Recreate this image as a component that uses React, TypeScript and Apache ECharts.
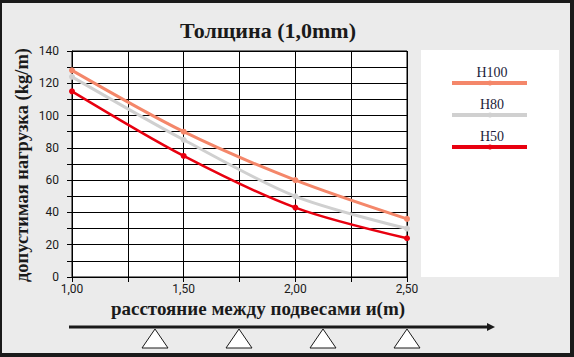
import React, { useEffect, useRef } from "react";
import * as echarts from "echarts";

const spans = [1.0, 1.5, 2.0, 2.5];
const seriesNames = ["H100", "H80", "H50"];
const h100 = [128, 90, 60, 36];
const h80 = [124, 85, 50, 30];
const h50 = [115, 75, 43, 24];
const colors = ["#f4876a", "#d0d0d0", "#e8000f"];
const supportXs = [155, 239, 323, 407];

export default function App() {
  const ref = useRef<HTMLDivElement>(null);
  useEffect(() => {
    if (!ref.current) return;
    const chart = echarts.init(ref.current, null, { renderer: "svg" });
    const values = [h100, h80, h50];
    const dark = "#1a1a1a";
    const legendGraphics: any[] = [];
    seriesNames.forEach((n, i) => {
      const y = 72 + i * 32;
      legendGraphics.push({
        type: "text",
        x: 492,
        y,
        style: { text: n, fill: "#1c1c3a", font: "14px 'Liberation Serif'", textAlign: "center", textVerticalAlign: "middle" },
        z: 10,
      });
      legendGraphics.push({
        type: "line",
        shape: { x1: 452, y1: y + 11, x2: 527, y2: y + 11 },
        style: { stroke: colors[i], lineWidth: 4 },
        z: 10,
      });
      legendGraphics.push({
        type: "circle",
        shape: { cx: 490, cy: y + 11, r: 2.5 },
        style: { fill: colors[i] },
        z: 11,
      });
    });
    const triangles = supportXs.map((cx) => ({
      type: "polygon",
      shape: { points: [[cx, 329], [cx - 13, 348], [cx + 13, 348]] },
      style: { fill: "#fff", stroke: dark, lineWidth: 1 },
      z: 10,
    }));
    chart.setOption({
      animation: false,
      backgroundColor: "#ebebeb",
      grid: {
        left: 72,
        right: 167,
        top: 51,
        bottom: 80,
        show: true,
        backgroundColor: "#ffffff",
        borderColor: "#000",
        borderWidth: 1,
      },
      xAxis: {
        type: "value",
        min: 1,
        max: 2.5,
        interval: 0.25,
        axisLine: { show: true, lineStyle: { color: "#000", width: 1 } },
        axisTick: { show: true, length: 5, lineStyle: { color: "#000" } },
        splitLine: { show: true, lineStyle: { color: "#000", width: 1 } },
        axisLabel: {
          margin: 6,
          color: dark,
          fontSize: 12,
          fontFamily: "Roboto",
          formatter: (v: number) =>
            Math.abs(v * 2 - Math.round(v * 2)) < 1e-6 ? v.toFixed(2).replace(".", ",") : "",
        },
      },
      yAxis: {
        type: "value",
        min: 0,
        max: 140,
        interval: 10,
        axisLine: { show: true, lineStyle: { color: "#000", width: 1 } },
        axisTick: { show: true, length: 5, lineStyle: { color: "#000" } },
        splitLine: { show: true, lineStyle: { color: "#000", width: 1 } },
        axisLabel: {
          margin: 13,
          color: dark,
          fontSize: 12,
          fontFamily: "Roboto",
          formatter: (v: number) => (v % 20 === 0 ? String(v) : ""),
        },
      },
      series: seriesNames.map((n, i) => ({
        name: n,
        type: "line",
        smooth: 0.3,
        data: spans.map((x, j) => [x, values[i][j]]),
        symbol: "circle",
        symbolSize: 6,
        lineStyle: { color: colors[i], width: i === 2 ? 2.5 : 3 },
        itemStyle: { color: colors[i] },
        z: 5 - i,
      })),
      graphic: [
        { type: "rect", shape: { x: 0, y: 0, width: 574, height: 3 }, style: { fill: dark } },
        { type: "rect", shape: { x: 0, y: 353, width: 574, height: 4 }, style: { fill: dark } },
        { type: "rect", shape: { x: 0, y: 0, width: 2, height: 357 }, style: { fill: dark } },
        { type: "rect", shape: { x: 570, y: 0, width: 4, height: 357 }, style: { fill: dark } },
        { type: "rect", shape: { x: 421, y: 50, width: 138, height: 227 }, style: { fill: "#fff" } },
        ...legendGraphics,
        {
          type: "text",
          x: 268,
          y: 30,
          style: {
            text: "Толщина (1,0mm)",
            fill: dark,
            font: "bold 22px 'Liberation Serif'",
            textAlign: "center",
            textVerticalAlign: "middle",
          },
        },
        {
          type: "text",
          x: 22,
          y: 165,
          rotation: Math.PI / 2,
          style: {
            text: "допустимая нагрузка (kg/m)",
            fill: dark,
            font: "bold 18.5px 'Liberation Serif'",
            textAlign: "center",
            textVerticalAlign: "middle",
          },
        },
        {
          type: "text",
          x: 258,
          y: 308,
          style: {
            text: "расстояние между подвесами и(m)",
            fill: dark,
            font: "bold 19px 'Liberation Serif'",
            textAlign: "center",
            textVerticalAlign: "middle",
          },
        },
        {
          type: "line",
          shape: { x1: 69, y1: 327, x2: 488, y2: 327 },
          style: { stroke: dark, lineWidth: 3 },
        },
        {
          type: "polygon",
          shape: { points: [[487, 323], [495, 327], [487, 331]] },
          style: { fill: dark },
        },
        ...triangles,
      ],
    });
    return () => chart.dispose();
  }, []);
  return (
    <div
      ref={ref}
      style={{ position: "fixed", left: 0, top: 0, width: 574, height: 357 }}
    />
  );
}
